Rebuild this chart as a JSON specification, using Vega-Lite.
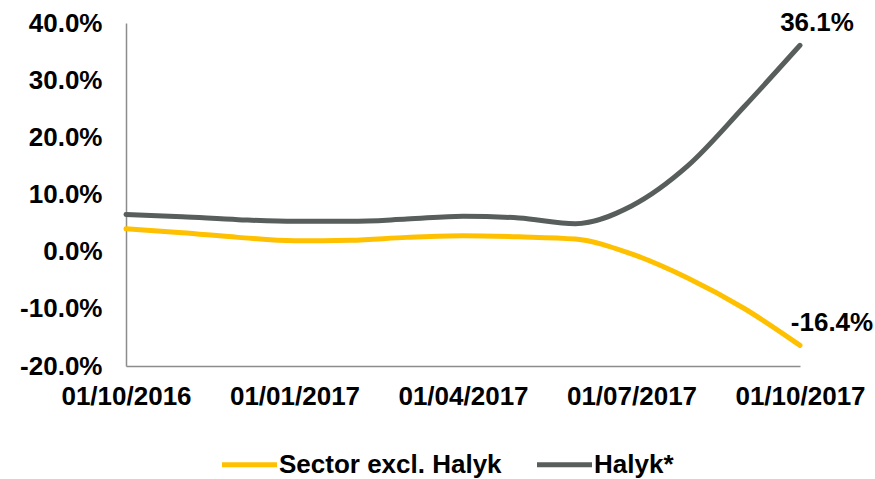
{
  "$schema": "https://vega.github.io/schema/vega-lite/v6.json",
  "width": 674,
  "height": 343,
  "autosize": {"type": "none"},
  "padding": {"left": 126, "top": 23, "right": 75, "bottom": 113},
  "background": "white",
  "config": {
    "view": {"stroke": null},
    "font": "Liberation Sans",
    "axis": {"labelFont": "Liberation Sans", "labelFontWeight": "bold", "labelFontSize": 26, "labelColor": "#000000", "grid": false, "ticks": false, "domainColor": "#8c8c8c", "domainWidth": 1.5, "title": null},
    "legend": {"labelFont": "Liberation Sans", "labelFontWeight": "bold", "labelFontSize": 26, "labelColor": "#000000", "labelLimit": 400}
  },
  "data": {"values": [
    {"month": "01/10/2016", "series": "Sector excl. Halyk", "v": 4.0},
    {"month": "01/11/2016", "series": "Sector excl. Halyk", "v": 3.3},
    {"month": "01/12/2016", "series": "Sector excl. Halyk", "v": 2.5},
    {"month": "01/01/2017", "series": "Sector excl. Halyk", "v": 1.9},
    {"month": "01/02/2017", "series": "Sector excl. Halyk", "v": 2.0},
    {"month": "01/03/2017", "series": "Sector excl. Halyk", "v": 2.5},
    {"month": "01/04/2017", "series": "Sector excl. Halyk", "v": 2.8},
    {"month": "01/05/2017", "series": "Sector excl. Halyk", "v": 2.6},
    {"month": "01/06/2017", "series": "Sector excl. Halyk", "v": 2.2},
    {"month": "01/07/2017", "series": "Sector excl. Halyk", "v": -0.4},
    {"month": "01/08/2017", "series": "Sector excl. Halyk", "v": -4.6},
    {"month": "01/09/2017", "series": "Sector excl. Halyk", "v": -9.9},
    {"month": "01/10/2017", "series": "Sector excl. Halyk", "v": -16.4, "label": "-16.4%"},
    {"month": "01/10/2016", "series": "Halyk*", "v": 6.5},
    {"month": "01/11/2016", "series": "Halyk*", "v": 6.1},
    {"month": "01/12/2016", "series": "Halyk*", "v": 5.6},
    {"month": "01/01/2017", "series": "Halyk*", "v": 5.3},
    {"month": "01/02/2017", "series": "Halyk*", "v": 5.3},
    {"month": "01/03/2017", "series": "Halyk*", "v": 5.7},
    {"month": "01/04/2017", "series": "Halyk*", "v": 6.2},
    {"month": "01/05/2017", "series": "Halyk*", "v": 5.9},
    {"month": "01/06/2017", "series": "Halyk*", "v": 4.9},
    {"month": "01/07/2017", "series": "Halyk*", "v": 8.0},
    {"month": "01/08/2017", "series": "Halyk*", "v": 15.0},
    {"month": "01/09/2017", "series": "Halyk*", "v": 25.3},
    {"month": "01/10/2017", "series": "Halyk*", "v": 36.1, "label": "36.1%"}
  ]},
  "encoding": {
    "x": {"field": "month", "type": "ordinal", "sort": null,
      "scale": {"type": "point", "padding": 0},
      "axis": {"values": ["01/10/2016", "01/01/2017", "01/04/2017", "01/07/2017", "01/10/2017"], "labelAngle": 0, "labelPadding": 17}},
    "y": {"field": "v", "type": "quantitative",
      "scale": {"domain": [-20, 40], "nice": false},
      "axis": {"values": [-20, -10, 0, 10, 20, 30, 40], "labelExpr": "(datum.value < 0 ? '-' : '') + format(abs(datum.value), '.1f') + '%'", "labelPadding": 24}}
  },
  "layer": [
    {
      "mark": {"type": "line", "interpolate": "monotone", "strokeWidth": 5, "strokeCap": "round"},
      "encoding": {
        "color": {"field": "series", "type": "nominal",
          "scale": {"domain": ["Sector excl. Halyk", "Halyk*"], "range": ["#FFC000", "#575E5B"]},
          "legend": {"title": null, "orient": "none", "legendX": 110, "legendY": 428, "direction": "horizontal", "symbolType": "M-2.5,0H2.5", "symbolSize": 484, "symbolStrokeWidth": 5, "symbolFillColor": "transparent", "columnPadding": 25, "labelOffset": 16}
        }
      }
    },
    {
      "transform": [{"filter": "datum.label == '36.1%'"}],
      "mark": {"type": "text", "fontWeight": "bold", "fontSize": 26, "baseline": "bottom", "dx": 17, "dy": -9, "color": "#000000"},
      "encoding": {"text": {"field": "label"}}
    },
    {
      "transform": [{"filter": "datum.label == '-16.4%'"}],
      "mark": {"type": "text", "fontWeight": "bold", "fontSize": 26, "baseline": "bottom", "dx": 32, "dy": -9, "color": "#000000"},
      "encoding": {"text": {"field": "label"}}
    }
  ]
}
